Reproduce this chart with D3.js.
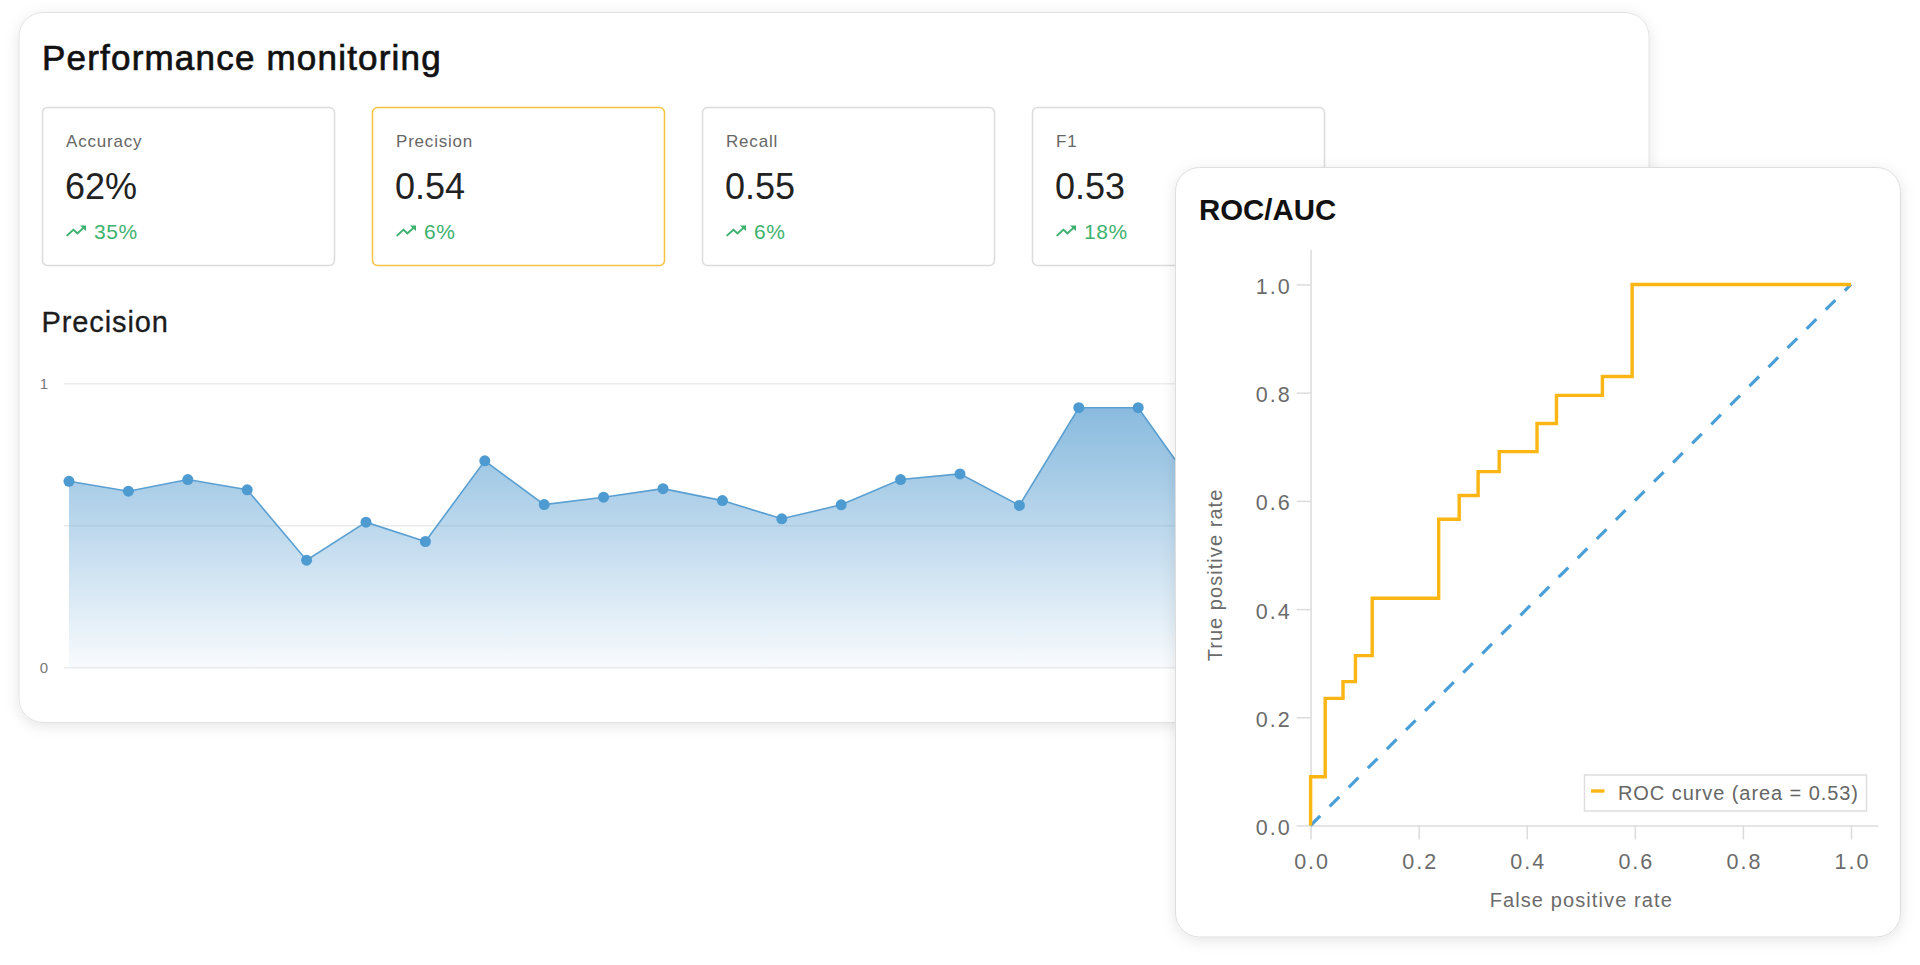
<!DOCTYPE html>
<html>
<head>
<meta charset="utf-8">
<script src="https://cdn.jsdelivr.net/npm/d3@7"></script>
<style>
  html, body { margin: 0; padding: 0; background: #fff; overflow: hidden; }
  svg { display: block; font-family: "Liberation Sans", Arial, Helvetica, sans-serif; }
</style>
</head>
<body>
<svg id="page" width="1920" height="965"></svg>
<script>
// ---- data ----
var metricNames = ["Accuracy", "Precision", "Recall", "F1"];
var metricValues = ["62%", "0.54", "0.55", "0.53"];
var metricTrends = ["35%", "6%", "6%", "18%"];

var precisionDays = [1, 2, 3, 4, 5, 6, 7, 8, 9, 10, 11, 12, 13, 14, 15, 16, 17, 18, 19, 20];
var precisionValues = [0.655, 0.62, 0.661, 0.625, 0.377, 0.511, 0.443, 0.727, 0.573, 0.599,
                       0.629, 0.587, 0.523, 0.572, 0.661, 0.681, 0.57, 0.914, 0.914, 0.62];
var precisionTicks = [0, 0.5, 1];

var rocFpr = [0, 0.027, 0.06, 0.083, 0.114, 0.237, 0.275, 0.31, 0.349, 0.419, 0.455, 0.54, 0.595, 1.0];
var rocTpr = [0, 0.09, 0.235, 0.266, 0.314, 0.42, 0.566, 0.61, 0.654, 0.691, 0.743, 0.795, 0.83, 1.0];
var rocTicks = [0, 0.2, 0.4, 0.6, 0.8, 1.0];
var rocAuc = 0.53;

var svg = d3.select("#page");
var defs = svg.append("defs");

defs.append("filter")
    .attr("id", "shadow")
    .attr("x", "-10%").attr("y", "-10%")
    .attr("width", "120%").attr("height", "125%")
  .append("feDropShadow")
    .attr("dx", 0).attr("dy", 3)
    .attr("stdDeviation", 7)
    .attr("flood-color", "#000")
    .attr("flood-opacity", 0.1);

var grad = defs.append("linearGradient")
    .attr("id", "areaFill")
    .attr("gradientUnits", "userSpaceOnUse")
    .attr("x1", 0).attr("x2", 0);

// ---- main card ----
svg.append("rect")
    .attr("x", 19).attr("y", 12.5)
    .attr("width", 1630).attr("height", 710)
    .attr("rx", 24)
    .attr("fill", "#fff")
    .attr("stroke", "#e2e2e2")
    .attr("filter", "url(#shadow)");

svg.append("text")
    .attr("x", 42).attr("y", 70)
    .attr("font-size", 35)
    .attr("letter-spacing", 1.2)
    .attr("fill", "#111")
    .attr("stroke", "#111").attr("stroke-width", 0.7)
    .text("Performance monitoring");

// metric tiles
var tile = svg.selectAll("g.tile")
  .data(metricNames)
  .enter().append("g")
    .attr("class", "tile")
    .attr("transform", function(d, i) { return "translate(" + (42 + i * 330) + ",107)"; });

tile.append("rect")
    .attr("x", 0.5).attr("y", 0.5)
    .attr("width", 292).attr("height", 158)
    .attr("rx", 5)
    .attr("fill", "#fff")
    .attr("stroke", function(d) { return d === "Precision" ? "#f5c242" : "#dcdcdc"; })
    .attr("stroke-width", 1.5);

tile.append("text")
    .attr("x", 24).attr("y", 40)
    .attr("font-size", 17)
    .attr("letter-spacing", 0.8)
    .attr("fill", "#666")
    .text(function(d) { return d; });

tile.append("text")
    .attr("x", 23).attr("y", 92)
    .attr("font-size", 36)
    .attr("fill", "#222")
    .text(function(d, i) { return metricValues[i]; });

tile.append("path")
    .attr("d", "M16 6l2.29 2.29-4.88 4.88-4-4L2 16.59 3.41 18l6-6 4 4 6.3-6.29L22 12V6z")
    .attr("transform", "translate(22,113) scale(1,0.92)")
    .attr("fill", "#3db26e");

tile.append("text")
    .attr("x", 52).attr("y", 132)
    .attr("font-size", 21)
    .attr("letter-spacing", 0.6)
    .attr("fill", "#3db26e")
    .text(function(d, i) { return metricTrends[i]; });

// precision area chart
svg.append("text")
    .attr("x", 41.5).attr("y", 332)
    .attr("font-size", 29)
    .attr("letter-spacing", 0.9)
    .attr("fill", "#1c1c1c")
    .attr("stroke", "#1c1c1c").attr("stroke-width", 0.3)
    .text("Precision");

var pLeft = 64, pRight = 1625;
var xP = d3.scalePoint().domain(precisionDays).range([69, 69 + 59.4 * (precisionDays.length - 1)]);
var yP = d3.scaleLinear().domain([0, 1]).range([667.3, 383.3]);

grad.attr("y1", yP(1)).attr("y2", yP(0));
grad.append("stop").attr("offset", 0).attr("stop-color", "rgb(74,150,205)").attr("stop-opacity", 0.71);
grad.append("stop").attr("offset", 1).attr("stop-color", "rgb(74,150,205)").attr("stop-opacity", 0.04);

var pAxis = svg.append("g")
    .attr("transform", "translate(" + pLeft + ",0)")
    .call(d3.axisLeft(yP)
      .tickValues(precisionTicks)
      .tickSize(-(pRight - pLeft))
      .tickPadding(16)
      .tickFormat(function(d) { return d === 0.5 ? "" : d3.format("d")(d); }));
pAxis.select(".domain").remove();
pAxis.selectAll(".tick line").attr("stroke", "#ececec").attr("stroke-width", 1.5);
pAxis.selectAll(".tick text")
    .attr("font-family", "Liberation Sans, Arial, sans-serif")
    .attr("font-size", 15)
    .attr("fill", "#777");

var pts = precisionDays.map(function(d, i) { return { day: d, v: precisionValues[i] }; });

svg.append("path")
    .datum(pts)
    .attr("fill", "url(#areaFill)")
    .attr("d", d3.area()
      .x(function(d) { return xP(d.day); })
      .y0(yP(0))
      .y1(function(d) { return yP(d.v); }));

svg.append("path")
    .datum(pts)
    .attr("fill", "none")
    .attr("stroke", "#5a9fd2")
    .attr("stroke-width", 1.6)
    .attr("d", d3.line()
      .x(function(d) { return xP(d.day); })
      .y(function(d) { return yP(d.v); }));

svg.selectAll("circle.pt")
  .data(pts)
  .enter().append("circle")
    .attr("class", "pt")
    .attr("cx", function(d) { return xP(d.day); })
    .attr("cy", function(d) { return yP(d.v); })
    .attr("r", 5.5)
    .attr("fill", "#4d9bd0");

// ---- ROC card ----
svg.append("rect")
    .attr("x", 1175.5).attr("y", 167.5)
    .attr("width", 725).attr("height", 769.5)
    .attr("rx", 24)
    .attr("fill", "#fff")
    .attr("stroke", "#dedede")
    .attr("filter", "url(#shadow)");

svg.append("text")
    .attr("x", 1199).attr("y", 220)
    .attr("font-size", 29.4)
    .attr("font-weight", "bold")
    .attr("fill", "#111")
    .text("ROC/AUC");

var xR = d3.scaleLinear().domain([0, 1.05]).range([1310.6, 1878]);
var yR = d3.scaleLinear().domain([0, 1.065]).range([825.5, 249.3]);

function styleAxis(g) {
  g.select(".domain").attr("stroke", "#dcdcdc").attr("stroke-width", 1.5);
  g.selectAll(".tick line").attr("stroke", "#dcdcdc").attr("stroke-width", 1.5);
  g.selectAll(".tick text")
    .attr("font-family", "Liberation Sans, Arial, sans-serif")
    .attr("font-size", 21.5)
    .attr("letter-spacing", 2)
    .attr("fill", "#6b6b6b");
}

var yAxisR = svg.append("g")
    .attr("transform", "translate(" + xR(0) + ",0)")
    .call(d3.axisLeft(yR).tickValues(rocTicks).tickFormat(d3.format(".1f"))
      .tickSize(14).tickPadding(5).tickSizeOuter(0));
styleAxis(yAxisR);
yAxisR.selectAll(".tick text").attr("dy", "0.42em");

var xAxisR = svg.append("g")
    .attr("transform", "translate(0," + yR(0) + ")")
    .call(d3.axisBottom(xR).tickValues(rocTicks).tickFormat(d3.format(".1f"))
      .tickSize(14).tickPadding(14.7).tickSizeOuter(0));
styleAxis(xAxisR);
xAxisR.selectAll(".tick text").attr("dx", 1);

svg.append("text")
    .attr("x", (xR(0) + xR(1)) / 2 + 0.5).attr("y", 906.7)
    .attr("text-anchor", "middle")
    .attr("font-size", 20)
    .attr("letter-spacing", 1.1)
    .attr("fill", "#6b6b6b")
    .text("False positive rate");

svg.append("text")
    .attr("transform", "translate(1222,575) rotate(-90)")
    .attr("text-anchor", "middle")
    .attr("font-size", 20)
    .attr("letter-spacing", 1.05)
    .attr("fill", "#6b6b6b")
    .text("True positive rate");

// chance diagonal
svg.append("path")
    .datum([0, 1])
    .attr("fill", "none")
    .attr("stroke", "#4a9fd6")
    .attr("stroke-width", 3.2)
    .attr("stroke-dasharray", "13.6,13.4")
    .attr("d", d3.line().x(function(d) { return xR(d); }).y(function(d) { return yR(d); }));

// ROC curve
var rocPts = rocFpr.map(function(f, i) { return [f, rocTpr[i]]; });
svg.append("path")
    .datum(rocPts)
    .attr("fill", "none")
    .attr("stroke", "#fbb614")
    .attr("stroke-width", 3.4)
    .attr("d", d3.line()
      .curve(d3.curveStepBefore)
      .x(function(d) { return xR(d[0]); })
      .y(function(d) { return yR(d[1]); }));

// legend
var leg = svg.append("g").attr("transform", "translate(1584.5,775)");
leg.append("rect")
    .attr("width", 282).attr("height", 36)
    .attr("fill", "#fff")
    .attr("stroke", "#dedede")
    .attr("stroke-width", 1.5);
leg.append("line")
    .attr("x1", 6.5).attr("x2", 20).attr("y1", 16).attr("y2", 16)
    .attr("stroke", "#fbb614").attr("stroke-width", 3.4);
leg.append("text")
    .attr("x", 33.5).attr("y", 25)
    .attr("font-size", 20)
    .attr("letter-spacing", 0.93)
    .attr("fill", "#666")
    .text("ROC curve (area = " + d3.format(".2f")(rocAuc) + ")");
</script>
</body>
</html>
